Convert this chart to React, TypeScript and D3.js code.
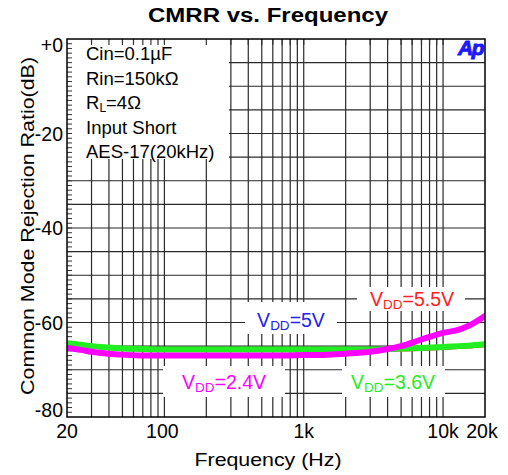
import React from "react";
import * as d3 from "d3";

const freqs = [20, 25, 30, 40, 50, 70, 100, 150, 200, 300, 500, 700, 1000, 1500, 2000, 3000, 4000, 5000, 7000, 10000, 13000, 15000, 20000];
const vdd36 = [-64.4, -64.7, -65.0, -65.3, -65.5, -65.6, -65.7, -65.7, -65.7, -65.7, -65.7, -65.7, -65.7, -65.7, -65.7, -65.7, -65.6, -65.5, -65.4, -65.2, -65.0, -64.9, -64.6];
const vdd5 = [-64.8, -65.1, -65.3, -65.6, -65.8, -65.9, -66.0, -66.0, -66.0, -66.0, -66.0, -66.0, -66.0, -66.0, -66.0, -66.0, -65.9, -65.8, -65.7, -65.5, -65.3, -65.2, -64.9];
const vdd55 = [-64.7, -65.0, -65.3, -65.6, -65.7, -65.9, -66.0, -66.0, -66.0, -66.0, -66.0, -66.0, -66.0, -66.0, -66.0, -66.0, -65.9, -65.9, -65.8, -65.6, -65.4, -65.3, -65.0];
const vdd24 = [-65.4, -65.8, -66.2, -66.6, -66.8, -67.0, -67.0, -67.0, -67.0, -67.0, -67.0, -67.0, -66.9, -66.8, -66.6, -66.2, -65.6, -65.0, -63.6, -62.2, -61.5, -60.8, -58.6];

const xTickVals = [20, 100, 1000, 10000, 20000];
const xTickLabels = ["20", "100", "1k", "10k", "20k"];
const yTickVals = [0, -20, -40, -60, -80];
const yTickLabels = ["+0", "-20", "-40", "-60", "-80"];
const legendLines = ["Cin=0.1\u00B5F", "Rin=150k\u03A9", "RL", "Input Short", "AES-17(20kHz)"];

const W = 508, H = 475;
const L = 67, R = 485, T = 39, B = 417;
const FONT = "'Liberation Sans', Arial, sans-serif";

export default function App() {
  const x = d3.scaleLog().domain([20, 20000]).range([L, R]);
  const y = d3.scaleLinear().domain([-80, 0]).range([B, T]);

  const vGrid: number[] = [];
  for (const dec of [10, 100, 1000, 10000]) {
    for (let k = 1; k <= 9; k++) {
      const f = dec * k;
      if (f > 20 && f < 20000) vGrid.push(f);
    }
  }
  const hGrid = d3.range(-75, 0, 5);
  const minor = d3.range(-79, 0, 1);

  const line = d3
    .line<number>()
    .x((_, i) => x(freqs[i]))
    .y((d) => y(d))
    .curve(d3.curveMonotoneX);

  const series = [
    { data: vdd55, color: "#ff2020", w: 2 },
    { data: vdd5, color: "#2020ff", w: 2 },
    { data: vdd36, color: "#22ee22", w: 6 },
    { data: vdd24, color: "#ff00ff", w: 6 },
  ];

  const labels = [
    { text: "5V", cx: 291, by: 327, color: "#2222ee", box: [245, 302, 92, 32] },
    { text: "5.5V", cx: 412, by: 306, color: "#ff2020", box: [357, 287, 108, 24] },
    { text: "2.4V", cx: 224, by: 389, color: "#ff00ff", box: [163, 366, 122, 31] },
    { text: "3.6V", cx: 393, by: 389, color: "#22ee22", box: [342, 366, 103, 31] },
  ];

  return (
    <svg width={W} height={H} style={{ position: "absolute", left: 0, top: 0, background: "#fff" }} fontFamily={FONT}>
      <rect x={0} y={0} width={W} height={H} fill="#fff" />
      {/* grid */}
      {vGrid.map((f) => (
        <line key={"v" + f} x1={x(f)} x2={x(f)} y1={T} y2={B} stroke="#2a2a2a" strokeWidth={1.2} />
      ))}
      {hGrid.map((v) => (
        <line key={"h" + v} x1={L} x2={R} y1={y(v)} y2={y(v)} stroke="#2a2a2a" strokeWidth={1.2} />
      ))}
      {/* legend box */}
      <rect x={L} y={T} width={162} height={120} fill="#fff" />
      {/* ticks */}
      {vGrid.map((f) => (
        <line key={"tt" + f} x1={x(f)} x2={x(f)} y1={T} y2={T + 6} stroke="#333" strokeWidth={1.2} />
      ))}
      {minor.map((v) => (
        <line key={"m" + v} x1={L} x2={L + 5} y1={y(v)} y2={y(v)} stroke="#333" strokeWidth={1} />
      ))}
      {/* label boxes */}
      {labels.map((l) => (
        <rect key={"b" + l.text} x={l.box[0]} y={l.box[1]} width={l.box[2]} height={l.box[3]} fill="#fff" />
      ))}
      {/* curves */}
      <g clipPath="url(#clip)">
        {series.map((s, i) => (
          <path key={i} d={line(s.data) || ""} fill="none" stroke={s.color} strokeWidth={s.w} strokeLinejoin="round" strokeLinecap="round" />
        ))}
      </g>
      <defs>
        <clipPath id="clip">
          <rect x={L} y={T} width={R - L} height={B - T} />
        </clipPath>
      </defs>
      {/* border */}
      <rect x={L} y={T} width={R - L} height={B - T} fill="none" stroke="#000" strokeWidth={1.5} />
      {/* legend text */}
      {legendLines.map((t, i) => (
        <text key={t} x={86} y={60 + i * 24.5} fontSize={18.5} fill="#000">
          {t === "RL" ? (
            <>
              R<tspan fontSize={12} dy={3}>L</tspan>
              <tspan dy={-3}>=4{"\u03A9"}</tspan>
            </>
          ) : (
            t
          )}
        </text>
      ))}
      {/* series labels */}
      {labels.map((l) => (
        <text key={"t" + l.text} x={l.cx} y={l.by} fontSize={19.5} fill={l.color} textAnchor="middle">
          V<tspan fontSize={13.5} dy={3}>DD</tspan>
          <tspan dy={-3}>={l.text}</tspan>
        </text>
      ))}
      {/* Ap logo */}
      <text x={483} y={55} fontSize={21} fontWeight="bold" fontStyle="italic" fill="#1a1aff" stroke="#1a1aff" strokeWidth={1} textAnchor="end" letterSpacing={-1.5}>
        Ap
      </text>
      {/* y tick labels */}
      {yTickVals.map((v, i) => (
        <text key={"yl" + v} x={63} y={y(v) + (v === 0 ? 13 : v === -80 ? 0 : 7)} fontSize={19.5} textAnchor="end" fill="#000">
          {yTickLabels[i]}
        </text>
      ))}
      {/* x tick labels */}
      {xTickVals.map((v, i) => (
        <text key={"xl" + v} x={x(v) - (v === 20000 ? 3 : v === 100 ? 2 : 0)} y={438} fontSize={19.5} textAnchor="middle" fill="#000">
          {xTickLabels[i]}
        </text>
      ))}
      {/* titles */}
      <text x={268} y={22} fontSize={20} fontWeight="bold" textAnchor="middle" textLength={240} lengthAdjust="spacingAndGlyphs">
        CMRR vs. Frequency
      </text>
      <text x={268} y={466} fontSize={18.5} textAnchor="middle" textLength={147} lengthAdjust="spacingAndGlyphs">
        Frequency (Hz)
      </text>
      <text transform="translate(34,226) rotate(-90)" fontSize={18.5} textAnchor="middle" textLength={338} lengthAdjust="spacingAndGlyphs">
        Common Mode Rejection Ratio(dB)
      </text>
    </svg>
  );
}
